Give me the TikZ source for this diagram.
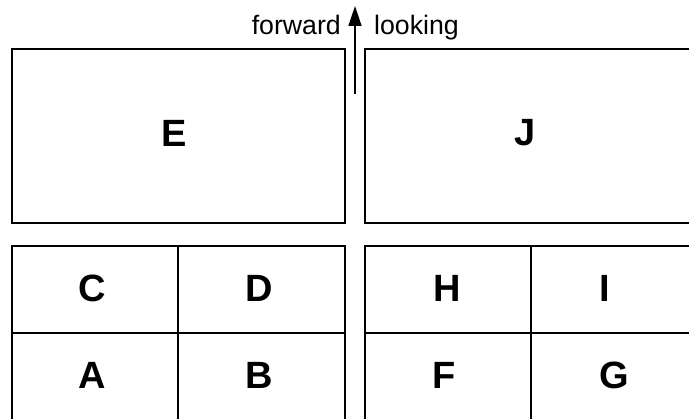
\documentclass[tikz,border=0pt]{standalone}
\usepackage{fontspec}
\setmainfont{Liberation Sans}
\usepackage{tikz}
\usetikzlibrary{arrows.meta}
\tikzset{
  panel/.style={draw,line width=1.7pt},
  heading/.style={-{Triangle[length=20pt,width=13pt]},line width=1.7pt},
}

\begin{document}
\begin{tikzpicture}[
  x=1pt,y=-1pt,
  cell/.style={font=\fontsize{38}{40}\selectfont\bfseries},
  tag/.style={font=\fontsize{26.7}{30}\selectfont,inner sep=0pt}
]
\useasboundingbox (0,0) rectangle (689,419);
\clip (0,0) rectangle (689,419);

% panels
\draw[panel] (12,49) rectangle (345,223);
\draw[panel] (365,49) rectangle (720,223);
\draw[panel] (12,246) rectangle (345,440);
\draw[panel] (365,246) rectangle (720,440);
\draw[panel] (12,333) -- (345,333) (178,246) -- (178,440);
\draw[panel] (365,333) -- (720,333) (531,246) -- (531,440);

% labels
\node[cell] (e) at (174,133) {E};
\node[cell] (j) at (525,133) {J};
\node[cell] (c) at (92,288) {C};
\node[cell] (d) at (259,288) {D};
\node[cell] (h) at (447,288) {H};
\node[cell] (i) at (605,288) {I};
\node[cell] (a) at (92,375) {A};
\node[cell] (b) at (259,375) {B};
\node[cell] (f) at (444,375) {F};
\node[cell] (g) at (614,375) {G};

% direction
\coordinate (tail) at (355,94);
\coordinate (tip) at (355,6);
\draw[heading] (tail) -- (tip);
\node[tag,anchor=base east] (fwd) at (341,35) {forward};
\node[tag,anchor=base west] (look) at (374,35) {looking};

\end{tikzpicture}
\end{document}
